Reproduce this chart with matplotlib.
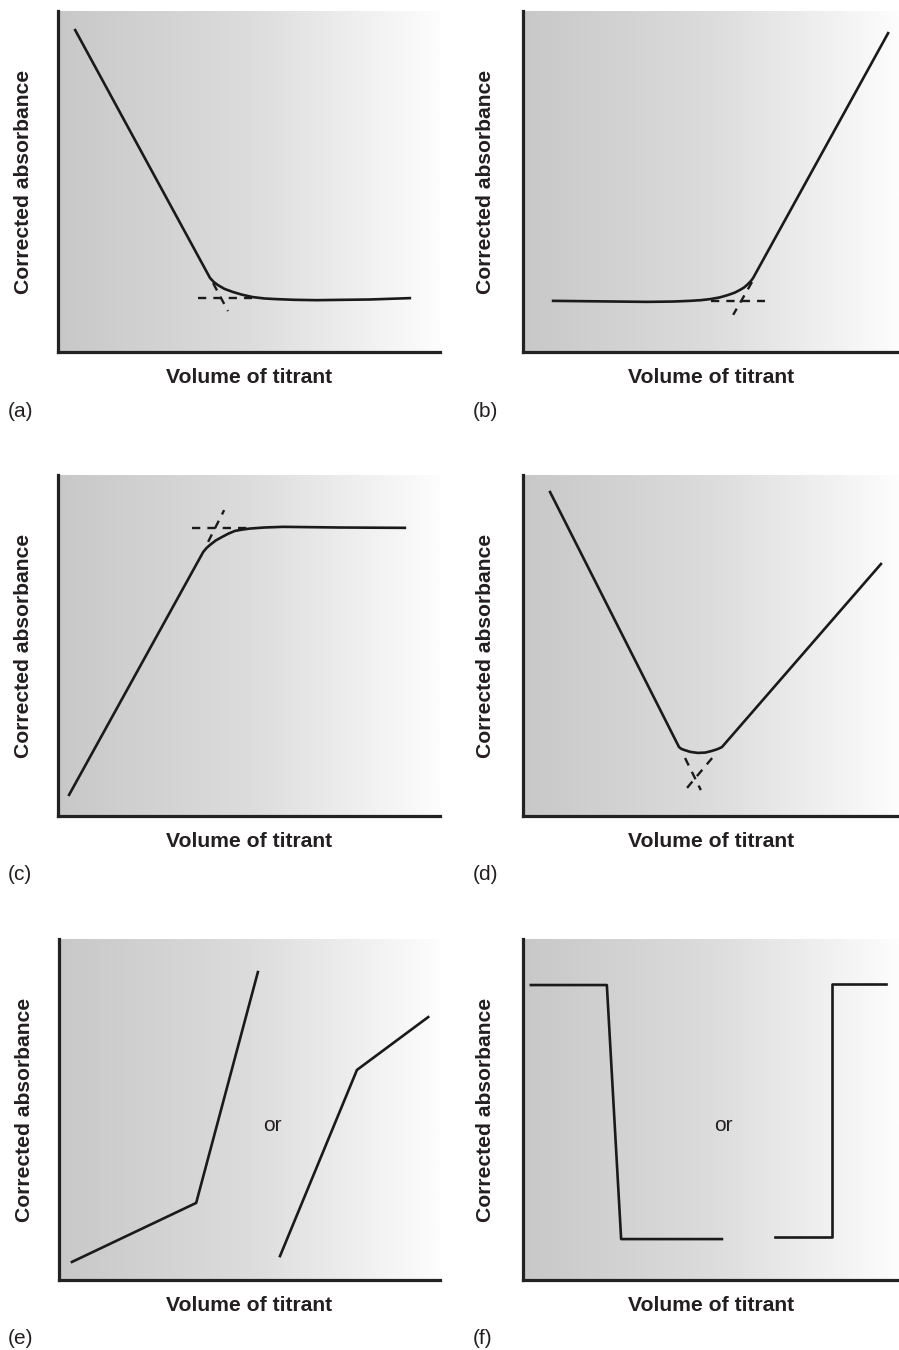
import numpy as np
import matplotlib
matplotlib.use("Agg")
import matplotlib.pyplot as plt
from matplotlib.colors import LinearSegmentedColormap

plt.rcParams['font.family'] = ['Liberation Sans', 'DejaVu Sans']

# ---- data (axes units 0-100) ----
# (a) decreasing then flat
a_x = [4.5, 39.8, 40.8, 41.9, 43.6, 45.8, 48.2, 51.0, 54.0, 57.3, 62.0, 67.8, 81.7, 92.1]
a_y = [94.4, 21.7, 20.5, 19.6, 18.5, 17.6, 16.8, 16.1, 15.7, 15.5, 15.3, 15.2, 15.4, 15.8]
a_hx = [36.6, 50.8]; a_hy = [15.8, 15.8]
a_dx = [40.6, 44.5]; a_dy = [20.2, 12.0]

# (b) flat then increasing
b_x = [8.0, 33.0, 40.0, 44.4, 47.3, 49.7, 52.3, 54.5, 56.3, 57.7, 58.9, 59.8, 60.6, 61.2, 97.1]
b_y = [15.0, 14.7, 14.8, 15.0, 15.2, 15.5, 16.0, 16.7, 17.4, 18.2, 19.0, 19.9, 20.8, 21.7, 93.5]
b_hx = [50.0, 64.4]; b_hy = [15.0, 15.0]
b_dx = [60.9, 55.9]; b_dy = [20.5, 10.9]

# (c) increasing then flat
c_x = [2.9, 38.0, 38.9, 39.8, 41.3, 42.9, 44.6, 46.3, 48.3, 50.3, 54.0, 58.9, 73.8, 90.8]
c_y = [6.2, 77.4, 78.6, 79.5, 80.8, 81.8, 82.8, 83.6, 84.0, 84.3, 84.6, 84.8, 84.6, 84.5]
c_hx = [35.1, 49.5]; c_hy = [84.5, 84.5]
c_dx = [39.3, 43.5]; c_dy = [80.4, 89.7]

# (d) V shape
d_x = [7.2, 41.5, 42.1, 42.8, 44.5, 46.5, 48.5, 50.3, 51.7, 52.9, 95.2]
d_y = [95.0, 20.2, 19.7, 19.4, 18.8, 18.5, 18.6, 19.1, 19.6, 20.2, 73.9]
d_l_x = [43.1, 47.3]; d_l_y = [17.0, 7.6]
d_r_x = [50.3, 43.6]; d_r_y = [17.0, 8.2]

# (e) two segmented lines
e1_x = [3.4, 36.0, 52.2]; e1_y = [5.3, 22.6, 90.3]
e2_x = [58.0, 78.2, 96.9]; e2_y = [7.0, 61.6, 77.1]

# (f) step lines
f1_x = [2.1, 22.3, 26.1, 52.9]; f1_y = [86.5, 86.5, 12.0, 12.0]
f2_x = [67.0, 82.2, 82.2, 96.5]; f2_y = [12.6, 12.6, 86.8, 86.8]

panel_letters = ['(a)', '(b)', '(c)', '(d)', '(e)', '(f)']
x_label = 'Volume of titrant'
y_label = 'Corrected absorbance'
or_text = 'or'

W, H = 899, 1350
fig = plt.figure(figsize=(W / 100, H / 100), dpi=100)
fig.patch.set_facecolor('white')

cmap = LinearSegmentedColormap.from_list('g', ['#c8c8c8', '#dcdcdc', '#fdfdfd'])
grad = np.linspace(0, 1, 256).reshape(1, -1)

TXT = '#231f20'
LINE = '#1a1a1a'

# axes boxes in pixels: (left, right, top, bottom)
boxes = [
    (58, 440, 11, 352), (523, 899, 11, 352),
    (58, 440, 475, 816), (523, 899, 475, 816),
    (59, 440, 939, 1280), (523, 899, 939, 1280),
]
axes = []
for i, (l, r, t, b) in enumerate(boxes):
    ax = fig.add_axes([l / W, 1 - b / H, (r - l) / W, (b - t) / H])
    ax.imshow(grad, extent=[0, 100, 0, 100], aspect='auto', cmap=cmap,
              vmin=0, vmax=1, zorder=0, interpolation='bilinear')
    ax.set_xlim(0, 100)
    ax.set_ylim(0, 100)
    ax.set_xticks([]); ax.set_yticks([])
    for s in ['top', 'right']:
        ax.spines[s].set_visible(False)
    for s in ['left', 'bottom']:
        ax.spines[s].set_color('#222222')
        ax.spines[s].set_linewidth(2.3)
        ax.spines[s].set_capstyle('projecting')
    ax.set_xlabel(x_label, fontsize=15.2, fontweight='bold', color=TXT, va='center')
    ax.xaxis.set_label_coords(0.5, -0.075)
    ax.set_ylabel(y_label, fontsize=15.2, fontweight='bold', color=TXT, va='center')
    ylx = -0.090 if i % 2 == 0 else -0.099
    ax.yaxis.set_label_coords(ylx, 0.5)
    lx = 8 if i % 2 == 0 else 473
    fig.text(lx / W, 1 - (t + 400) / H, panel_letters[i], fontsize=15,
             color=TXT, ha='left', va='center')
    axes.append(ax)

lw = 1.9
dash = dict(color=LINE, lw=1.7, ls=(0, (3.5, 3)))

ax = axes[0]
ax.plot(a_x, a_y, color=LINE, lw=lw, solid_joinstyle='round')
ax.plot(a_hx, a_hy, **dash)
ax.plot(a_dx, a_dy, **dash)

ax = axes[1]
ax.plot(b_x, b_y, color=LINE, lw=lw, solid_joinstyle='round')
ax.plot(b_hx, b_hy, **dash)
ax.plot(b_dx, b_dy, **dash)

ax = axes[2]
ax.plot(c_x, c_y, color=LINE, lw=lw, solid_joinstyle='round')
ax.plot(c_hx, c_hy, **dash)
ax.plot(c_dx, c_dy, **dash)

ax = axes[3]
ax.plot(d_x, d_y, color=LINE, lw=lw, solid_joinstyle='round')
ax.plot(d_l_x, d_l_y, **dash)
ax.plot(d_r_x, d_r_y, **dash)

ax = axes[4]
ax.plot(e1_x, e1_y, color=LINE, lw=lw)
ax.plot(e2_x, e2_y, color=LINE, lw=lw)
ax.text(55.9, 45.2, or_text, fontsize=15, color=TXT, ha='center', va='center')

ax = axes[5]
ax.plot(f1_x, f1_y, color=LINE, lw=lw)
ax.plot(f2_x, f2_y, color=LINE, lw=lw)
ax.text(53.2, 45.2, or_text, fontsize=15, color=TXT, ha='center', va='center')

fig.savefig('out.png', dpi=100, facecolor='white')
